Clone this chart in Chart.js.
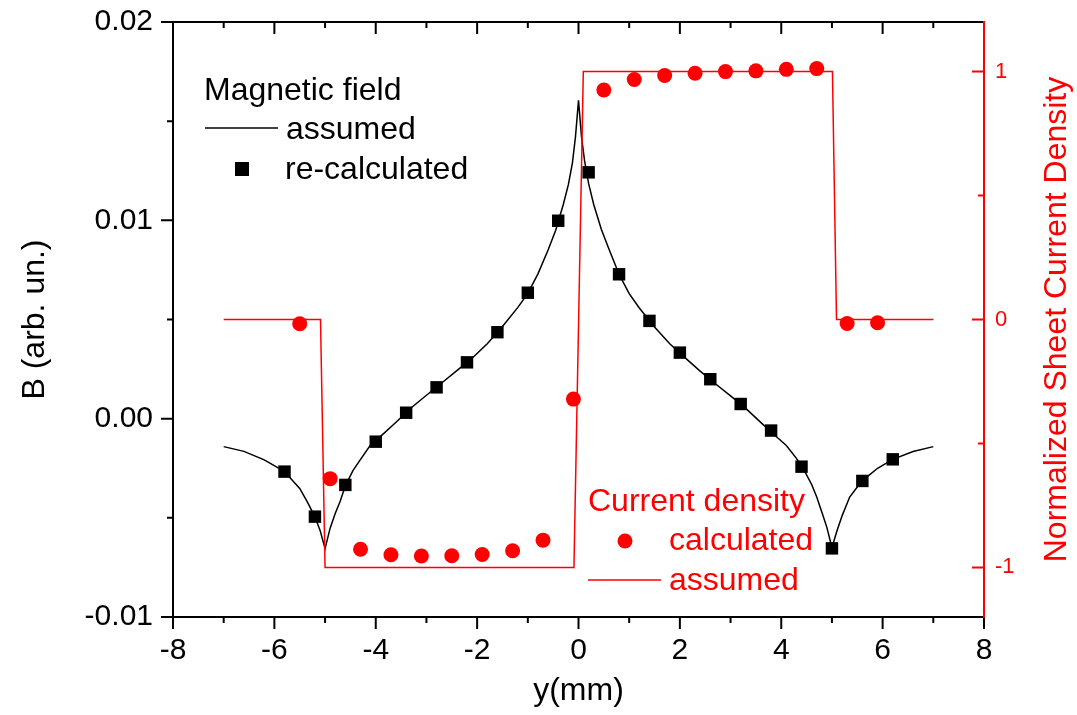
<!DOCTYPE html>
<html>
<head>
<meta charset="utf-8">
<script src="https://cdn.jsdelivr.net/npm/chart.js@4/dist/chart.umd.min.js"></script>
<style>
  html, body { margin: 0; padding: 0; background: #fff; }
</style>
</head>
<body>
<canvas id="myChart" width="1077" height="715"></canvas>
<script>
// magnetic field, assumed (solid black curve)
const fieldX = [-7.0, -6.6, -6.2, -5.9, -5.7, -5.5, -5.35, -5.2, -5.1, -5.0,
  -4.9, -4.8, -4.7, -4.6, -4.45, -4.3, -4.1, -3.9, -3.6, -3.3,
  -3.0, -2.7, -2.4, -2.1, -1.8, -1.5, -1.2, -1.0, -0.8, -0.6,
  -0.45, -0.3, -0.2, -0.12, -0.06, 0,
  0.06, 0.12, 0.2, 0.3, 0.45, 0.6, 0.8, 1.0, 1.2, 1.5,
  1.8, 2.1, 2.4, 2.7, 3.0, 3.3, 3.6, 3.9, 4.1, 4.3,
  4.45, 4.6, 4.7, 4.8, 4.9, 5.0, 5.1, 5.2, 5.35, 5.5,
  5.7, 5.9, 6.2, 6.6, 7.0];
const fieldB = [-0.00141, -0.00165, -0.00208, -0.00252, -0.00295, -0.00352, -0.00420, -0.00495, -0.00562, -0.00655,
  -0.00552, -0.00478, -0.00415, -0.00338, -0.00262, -0.00205, -0.00132, -0.00088, -0.00018, 0.00055,
  0.00118, 0.00180, 0.00242, 0.00305, 0.00378, 0.00465, 0.00560, 0.00632, 0.00730, 0.00850,
  0.00950, 0.01080, 0.01180, 0.01290, 0.01420, 0.01605,
  0.01420, 0.01300, 0.01185, 0.01080, 0.00955, 0.00855, 0.00728, 0.00630, 0.00558, 0.00462,
  0.00378, 0.00308, 0.00240, 0.00176, 0.00115, 0.00052, -0.00020, -0.00090, -0.00135, -0.00200,
  -0.00260, -0.00332, -0.00395, -0.00470, -0.00548, -0.00650, -0.00565, -0.00490, -0.00395, -0.00345,
  -0.00292, -0.00250, -0.00205, -0.00166, -0.00141];

// magnetic field, re-calculated (black squares)
const recalcX = [-5.8, -5.2, -4.6, -4.0, -3.4, -2.8, -2.2, -1.6, -1.0, -0.4, 0.2,
  0.8, 1.4, 2.0, 2.6, 3.2, 3.8, 4.4, 5.0, 5.6, 6.2];
const recalcB = [-0.00267, -0.00494, -0.00334, -0.00116, 0.00030, 0.00158, 0.00284, 0.00436, 0.00635, 0.00998, 0.01242,
  0.00728, 0.00493, 0.00333, 0.00199, 0.00074, -0.00060, -0.00242, -0.00654, -0.00314, -0.00205];

// current density, calculated (red circles)
const calcX = [-5.5, -4.9, -4.3, -3.7, -3.1, -2.5, -1.9, -1.3, -0.7, -0.1,
  0.5, 1.1, 1.7, 2.3, 2.9, 3.5, 4.1, 4.7, 5.3, 5.9];
const calcJ = [-0.017, -0.642, -0.927, -0.949, -0.954, -0.953, -0.948, -0.933, -0.890, -0.321,
  0.926, 0.968, 0.984, 0.993, 1.000, 1.003, 1.009, 1.012, -0.016, -0.013];

// current density, assumed (red step line)
const stepX = [-7, -5.09, -5.0, -0.09, 0.095, 5.01, 5.09, 7];
const stepJ = [0, 0, -1, -1, 1, 1, 0, 0];

// axis ticks
const xTicks = [-8, -6, -4, -2, 0, 2, 4, 6, 8];
const xMinor = [-7, -5, -3, -1, 1, 3, 5, 7];
const bTicks = [-0.01, 0, 0.01, 0.02];
const bMinor = [-0.005, 0.005, 0.015];
const jTicks = [-1, 0, 1];
const jMinor = [-0.5, 0.5];

const RED = '#ff0000';
const FONT = '"Liberation Sans", Arial, sans-serif';
Chart.defaults.font.family = FONT;

const pts = (xs, ys) => xs.map((x, i) => ({x: x, y: ys[i]}));

// frame, ticks, right title and the two legend blocks
const decor = {
  id: 'decor',
  afterDraw(chart) {
    const {ctx, chartArea: a, scales} = chart;
    const sx = scales.x, sy = scales.y, sj = scales.y2;
    ctx.save();
    ctx.lineWidth = 2;
    ctx.lineCap = 'square';
    ctx.strokeStyle = '#000';
    ctx.beginPath();
    ctx.moveTo(a.left, a.bottom); ctx.lineTo(a.left, a.top); ctx.lineTo(a.right, a.top);
    ctx.moveTo(a.left, a.bottom); ctx.lineTo(a.right, a.bottom);
    ctx.stroke();
    ctx.lineCap = 'butt';
    ctx.beginPath();
    xTicks.forEach(v => {
      const p = sx.getPixelForValue(v);
      ctx.moveTo(p, a.bottom); ctx.lineTo(p, a.bottom + 12);
      ctx.moveTo(p, a.top); ctx.lineTo(p, a.top + 12);
    });
    xMinor.forEach(v => {
      const p = sx.getPixelForValue(v);
      ctx.moveTo(p, a.bottom); ctx.lineTo(p, a.bottom + 6);
      ctx.moveTo(p, a.top); ctx.lineTo(p, a.top + 6);
    });
    bTicks.forEach(v => {
      const p = sy.getPixelForValue(v);
      ctx.moveTo(a.left - 12, p); ctx.lineTo(a.left, p);
    });
    bMinor.forEach(v => {
      const p = sy.getPixelForValue(v);
      ctx.moveTo(a.left - 6, p); ctx.lineTo(a.left, p);
    });
    ctx.stroke();

    ctx.strokeStyle = RED;
    ctx.beginPath();
    ctx.moveTo(a.right, a.top - 1); ctx.lineTo(a.right, a.bottom + 1);
    jTicks.forEach(v => {
      const p = sj.getPixelForValue(v);
      ctx.moveTo(a.right - 12, p); ctx.lineTo(a.right, p);
    });
    jMinor.forEach(v => {
      const p = sj.getPixelForValue(v);
      ctx.moveTo(a.right - 6, p); ctx.lineTo(a.right, p);
    });
    ctx.stroke();

    // right axis title, reading upward
    ctx.fillStyle = RED;
    ctx.font = '32px ' + FONT;
    ctx.save();
    ctx.translate(1057, (a.top + a.bottom) / 2);
    ctx.rotate(-Math.PI / 2);
    ctx.textAlign = 'center';
    ctx.textBaseline = 'middle';
    ctx.fillText('Normalized Sheet Current Density', 0, 0);
    ctx.restore();

    // legend: magnetic field
    ctx.textAlign = 'left';
    ctx.textBaseline = 'alphabetic';
    ctx.fillStyle = '#000';
    ctx.fillText('Magnetic field', 204, 100);
    ctx.fillText('assumed', 286, 139);
    ctx.fillText('re-calculated', 285, 179);
    ctx.lineWidth = 1.5;
    ctx.strokeStyle = '#000';
    ctx.beginPath(); ctx.moveTo(205, 128); ctx.lineTo(278, 128); ctx.stroke();
    ctx.fillRect(235, 162, 14, 14);

    // legend: current density
    ctx.fillStyle = RED;
    ctx.fillText('Current density', 588, 511);
    ctx.fillText('calculated', 669, 550);
    ctx.fillText('assumed', 669, 590);
    ctx.beginPath(); ctx.arc(625, 541, 7.5, 0, Math.PI * 2); ctx.fill();
    ctx.strokeStyle = RED;
    ctx.beginPath(); ctx.moveTo(588, 580); ctx.lineTo(661, 580); ctx.stroke();
    ctx.restore();
  }
};

const ctx = document.getElementById('myChart').getContext('2d');

new Chart(ctx, {
  type: 'scatter',
  data: {
    datasets: [{
      label: 'Magnetic field assumed',
      data: pts(fieldX, fieldB),
      showLine: true,
      borderColor: '#000',
      borderWidth: 1.5,
      pointRadius: 0,
      tension: 0,
      yAxisID: 'y',
      order: 3
    }, {
      label: 'Magnetic field re-calculated',
      data: pts(recalcX, recalcB),
      pointStyle: 'rect',
      pointRadius: 8.8,
      backgroundColor: '#000',
      borderWidth: 0,
      yAxisID: 'y',
      order: 0
    }, {
      label: 'Current density calculated',
      data: pts(calcX, calcJ),
      pointStyle: 'circle',
      pointRadius: 7.5,
      backgroundColor: RED,
      borderWidth: 0,
      yAxisID: 'y2',
      order: 1
    }, {
      label: 'Current density assumed',
      data: pts(stepX, stepJ),
      showLine: true,
      borderColor: RED,
      borderWidth: 1.5,
      pointRadius: 0,
      tension: 0,
      yAxisID: 'y2',
      order: 2
    }]
  },
  options: {
    responsive: false,
    devicePixelRatio: 1,
    animation: false,
    events: [],
    layout: { padding: { top: 22, left: 0, right: 0, bottom: 0 } },
    plugins: { legend: { display: false }, tooltip: { enabled: false } },
    scales: {
      x: {
        type: 'linear',
        position: 'bottom',
        min: -8,
        max: 8,
        afterBuildTicks: s => { s.ticks = xTicks.map(v => ({value: v})); },
        afterFit: s => { s.height = 98; },
        grid: { display: false, drawTicks: true, tickLength: 16 },
        border: { display: false },
        ticks: { color: '#000', font: { size: 30 }, padding: 0, callback: v => String(v) },
        title: { display: true, text: 'y(mm)', color: '#000', font: { size: 32 }, padding: { top: 0, bottom: 5 } }
      },
      y: {
        type: 'linear',
        position: 'left',
        min: -0.01,
        max: 0.02,
        afterBuildTicks: s => { s.ticks = bTicks.map(v => ({value: v})); },
        afterFit: s => { s.width = 173; },
        grid: { display: false, drawTicks: true, tickLength: 20 },
        border: { display: false },
        ticks: { color: '#000', font: { size: 30 }, padding: 0, callback: v => v.toFixed(2) },
        title: { display: true, text: 'B (arb. un.)', color: '#000', font: { size: 32 }, padding: { top: 16, bottom: 0 } }
      },
      y2: {
        type: 'linear',
        position: 'right',
        min: -1.2,
        max: 1.2,
        afterBuildTicks: s => { s.ticks = jTicks.map(v => ({value: v})); },
        afterFit: s => { s.width = 93; },
        grid: { display: false, drawTicks: true, tickLength: 11 },
        border: { display: false },
        ticks: { color: RED, font: { size: 22 }, padding: 0, callback: v => String(v) }
      }
    }
  },
  plugins: [decor]
});
</script>
</body>
</html>
